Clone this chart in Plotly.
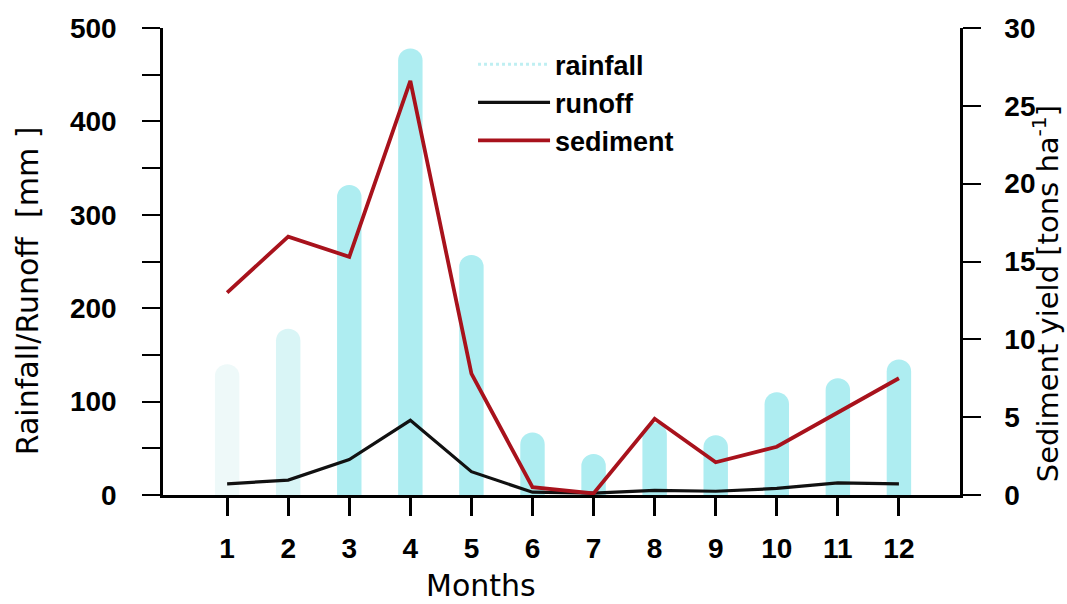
import plotly.graph_objects as go

months = list(range(1, 13))
month_labels = [str(m) for m in months]

rainfall_mm = [140, 178, 332, 478, 257, 67, 44, 77, 64, 110, 125, 145]
runoff_mm = [12, 16, 38, 80, 25, 3, 2, 5, 4, 7, 13, 12]
sediment_t_ha = [13.0, 16.6, 15.3, 26.6, 7.8, 0.5, 0.1, 4.9, 2.1, 3.1, 5.3, 7.5]

bar_colors = ["#eef9f9", "#d9f5f6"] + ["#aeedf1"] * 10

tick_family = "Liberation Sans, Arial, sans-serif"
title_family = "DejaVu Sans, Verdana, sans-serif"
tick_font = dict(family=tick_family, size=28, color="black", weight="bold")

fig = go.Figure()

fig.add_trace(go.Bar(
    x=months, y=rainfall_mm, name="rainfall", width=0.4,
    marker=dict(color=bar_colors, cornerradius=12, line=dict(width=0)),
    showlegend=False,
))
# legend entry for rainfall drawn as a dotted pale line
fig.add_trace(go.Scatter(
    x=[None], y=[None], mode="lines", name="rainfall",
    line=dict(color="#bfeff2", width=3, dash="dot"),
))
fig.add_trace(go.Scatter(
    x=months, y=runoff_mm, mode="lines", name="runoff",
    line=dict(color="#111111", width=3.2),
))
fig.add_trace(go.Scatter(
    x=months, y=sediment_t_ha, mode="lines", name="sediment", yaxis="y2",
    line=dict(color="#a8121c", width=3.8),
))

fig.update_layout(
    width=1067, height=604,
    margin=dict(l=163, r=107, t=28, b=109),
    paper_bgcolor="white", plot_bgcolor="white",
    bargap=0.6,
    legend=dict(
        x=0.389, y=0.974, xanchor="left", yanchor="top",
        font=dict(family=tick_family, size=27, color="black", weight="bold"),
        bgcolor="rgba(0,0,0,0)", tracegroupgap=0, itemwidth=72,
    ),
    xaxis=dict(
        range=[-0.05, 13.0], tickmode="array", tickvals=months, ticktext=month_labels,
        showgrid=False, zeroline=False,
        showline=True, linecolor="black", linewidth=3,
        ticks="outside", ticklen=18, tickwidth=2.5, tickcolor="black",
        ticklabelstandoff=8, tickfont=tick_font,
    ),
    yaxis=dict(
        range=[0, 500], dtick=100, showgrid=False, zeroline=False,
        showline=True, linecolor="black", linewidth=2.5,
        ticks="outside", ticklen=18, tickwidth=2, tickcolor="black",
        minor=dict(ticks="outside", ticklen=18, tickwidth=2, tickcolor="black", dtick=50),
        tickfont=tick_font, ticklabelstandoff=20,
    ),
    yaxis2=dict(
        range=[0, 30], dtick=5, overlaying="y", side="right",
        showgrid=False, zeroline=False,
        showline=True, linecolor="black", linewidth=2.5,
        ticks="outside", ticklen=18, tickwidth=2, tickcolor="black",
        tickfont=tick_font, ticklabelstandoff=18,
    ),
    annotations=[
        dict(text="Months", xref="paper", yref="paper", x=0.399, y=-0.193,
             xanchor="center", yanchor="middle", showarrow=False,
             font=dict(family=title_family, size=30, color="black")),
        dict(text="Rainfall/Runoff  [mm ]", xref="paper", yref="paper", x=-0.169, y=0.437,
             xanchor="center", yanchor="middle", textangle=-90, showarrow=False,
             font=dict(family=title_family, size=30, color="black")),
        dict(text="Sediment yield [tons ha<sup>-1</sup>]", xref="paper", yref="paper",
             x=1.108, y=0.43, xanchor="center", yanchor="middle", textangle=-90,
             showarrow=False, font=dict(family=title_family, size=29, color="black")),
    ],
)

fig.write_html("out.html")
